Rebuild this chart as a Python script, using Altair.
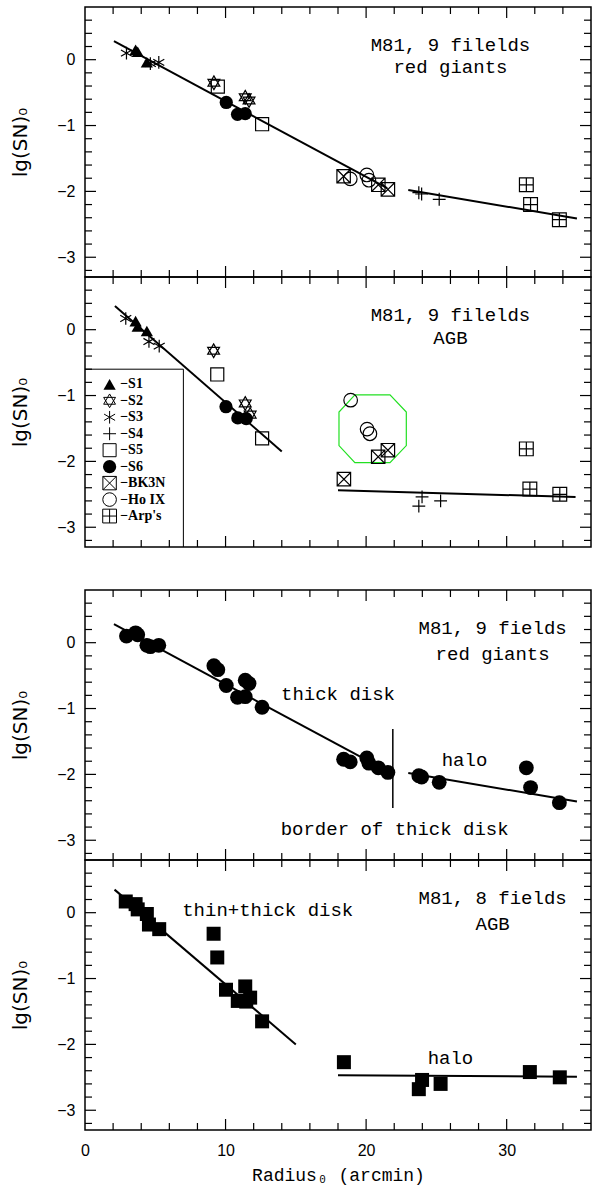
import altair as alt
import pandas as pd

# ---------------- data ----------------
FIELDS = ["S1", "S2", "S3", "S4", "S5", "S6", "BK3N", "Ho IX", "Arp's"]

pt_field = ["S1", "S1", "S1", "S2", "S2", "S2", "S3", "S3", "S3",
            "S4", "S4", "S4", "S5", "S5", "S6", "S6", "S6",
            "BK3N", "BK3N", "BK3N", "Ho IX", "Ho IX", "Ho IX",
            "Arp's", "Arp's", "Arp's"]

# red giants
rg_x = [3.60, 3.75, 4.40, 9.17, 11.40, 11.67, 2.95, 4.65, 5.25,
        23.75, 23.95, 25.20, 9.45, 12.60, 10.05, 10.85, 11.40,
        18.40, 20.87, 21.55, 18.87, 20.05, 20.20, 31.40, 31.70, 33.75]
rg_y = [0.15, 0.12, -0.04, -0.35, -0.57, -0.62, 0.10, -0.06, -0.04,
        -2.02, -2.04, -2.12, -0.41, -0.98, -0.65, -0.83, -0.82,
        -1.77, -1.90, -1.97, -1.81, -1.75, -1.83, -1.90, -2.20, -2.43]

# AGB
agb_x = [3.60, 3.75, 4.40, 9.15, 11.40, 11.75, 2.90, 4.55, 5.28,
         23.75, 23.98, 25.30, 9.41, 12.60, 10.03, 10.87, 11.47,
         18.42, 20.86, 21.55, 18.90, 20.07, 20.27, 31.40, 31.65, 33.78]
agb_y = [0.13, 0.05, -0.02, -0.32, -1.12, -1.29, 0.17, -0.18, -0.25,
         -2.68, -2.54, -2.60, -0.68, -1.65, -1.17, -1.34, -1.35,
         -2.27, -1.93, -1.83, -1.07, -1.51, -1.58, -1.81, -2.42, -2.50]
agb_in8 = [1, 1, 1, 1, 1, 1, 1, 1, 1, 1, 1, 1, 1, 1, 1, 1, 1,
           1, 0, 0, 0, 0, 0, 0, 1, 1]

# fitted lines (two segments each)
fit_seg = ["disk", "disk", "halo", "halo"]
rg_fit_x = [2.06, 21.5, 23.0, 35.0]
rg_fit_y = [0.28, -1.95, -1.98, -2.41]
agb9_fit_x = [2.13, 14.0, 18.0, 34.9]
agb9_fit_y = [0.36, -1.85, -2.44, -2.54]
agb8_fit_x = [2.1, 15.0, 18.0, 35.0]
agb8_fit_y = [0.35, -2.0, -2.47, -2.49]

# green octagon
oct_x = [19.2, 21.7, 22.86, 22.86, 21.7, 19.2, 18.07, 18.07, 19.2]
oct_y = [-0.99, -0.99, -1.25, -1.76, -2.02, -2.02, -1.76, -1.25, -0.99]

# thick-disk border
border_x = [21.9]
border_y1 = [-1.31]
border_y2 = [-2.51]

# legend box corners
lbox_x = [0.0, 7.0, 7.0]
lbox_y = [-0.6, -0.6, -3.3]

# axis ticks
x_major = [10, 20, 30]
x_minor = [2, 4, 6, 8, 12, 14, 16, 18, 22, 24, 26, 28, 32, 34]
y_major = [-3, -2, -1, 0]
y_minor = [-3.2, -2.8, -2.6, -2.4, -2.2, -1.8, -1.6, -1.4, -1.2,
           -0.8, -0.6, -0.4, -0.2, 0.2, 0.4, 0.6]
x_labels = [0, 10, 20, 30]

# annotations
ann1_text = ["M81, 9 filelds", "red giants"]
ann1_x = [26.0, 26.0]
ann1_y = [0.13, -0.20]
ann2_text = ["M81, 9 filelds", "AGB"]
ann2_x = [26.0, 26.0]
ann2_y = [0.13, -0.216]
ann3_text = ["M81, 9 fields", "red giants", "thick disk", "halo", "border of thick disk"]
ann3_x = [29.0, 29.0, 18.0, 27.0, 22.03]
ann3_y = [0.134, -0.256, -0.866, -1.867, -2.92]
ann4_text = ["M81, 8 fields", "AGB", "thin+thick disk", "halo"]
ann4_x = [29.0, 29.0, 13.0, 26.0]
ann4_y = [0.134, -0.256, -0.053, -2.30]

# ---------------- styling ----------------
W, H = 506, 270
GAP = 43
XS = alt.Scale(domain=[0, 36], nice=False, zero=False)
YS = alt.Scale(domain=[-3.3, 0.8], nice=False, zero=False)

HEX = "M0,-1.1L0.95,0.55L-0.95,0.55Z M0,1.1L0.95,-0.55L-0.95,-0.55Z"
AST = "M0,-1L0,1M-0.87,-0.5L0.87,0.5M-0.87,0.5L0.87,-0.5"
PLUS = "M-1,0L1,0M0,-1L0,1"
XBOX = "M-1,-1L1,-1L1,1L-1,1Z M-1,-1L1,1 M-1,1L1,-1"
PBOX = "M-1,-1L1,-1L1,1L-1,1Z M-1,0L1,0 M0,-1L0,1"
SHAPES = ["triangle-up", HEX, AST, PLUS, "square", "circle", XBOX, "circle", PBOX]
SIZES = [150, 190, 200, 130, 180, 225, 180, 175, 180]
FILLED = ["S1", "S6"]
OPEN = [f for f in FIELDS if f not in FILLED]

SHAPE_SCALE = alt.Scale(domain=FIELDS, range=SHAPES)
SIZE_SCALE = alt.Scale(domain=FIELDS, range=SIZES)

TEXT_FONT = "Liberation Mono"

Y_AXIS = alt.Axis(values=y_major, ticks=False, domain=False, grid=False,
                  labelFont="Liberation Sans", labelFontSize=16, labelPadding=10,
                  labelFlush=False, labelColor="black",
                  title="lg(SN)₀", titleFont="DejaVu Sans", titleFontSize=20,
                  titleFontWeight="normal", titlePadding=26, titleColor="black")
X_AXIS = alt.Axis(values=x_labels, ticks=False, domain=False, grid=False,
                  labelFont="Liberation Sans", labelFontSize=16, labelPadding=12,
                  labelFlush=False, labelColor="black",
                  title="Radius₀ (arcmin)", titleFont=TEXT_FONT, titleFontSize=18,
                  titleFontWeight="normal", titlePadding=8, titleColor="black")


class Panel:
    def __init__(self, show_x):
        self.xa = X_AXIS if show_x else None
        self.ya = Y_AXIS

    def X(self, f="x"):
        return alt.X(f"{f}:Q", scale=XS, axis=self.xa)

    def Y(self, f="y"):
        return alt.Y(f"{f}:Q", scale=YS, axis=self.ya)

    def ticks(self):
        layers = []
        for vals, L in ((x_major, 11), (x_minor, 7)):
            d = pd.DataFrame({"v": vals})
            b = alt.Chart(d).mark_rule(color="black", strokeWidth=1.2)
            layers.append(b.encode(x=self.X("v"), y=alt.value(H), y2=alt.value(H - L)))
            layers.append(b.encode(x=self.X("v"), y=alt.value(0), y2=alt.value(L)))
        for vals, L in ((y_major, 11), (y_minor, 7)):
            d = pd.DataFrame({"v": vals})
            b = alt.Chart(d).mark_rule(color="black", strokeWidth=1.2)
            layers.append(b.encode(y=self.Y("v"), x=alt.value(0), x2=alt.value(L)))
            layers.append(b.encode(y=self.Y("v"), x=alt.value(W), x2=alt.value(W - L)))
        return layers

    def fit(self, fx, fy):
        d = pd.DataFrame({"seg": fit_seg, "x": fx, "y": fy})
        return alt.Chart(d).mark_line(color="black", strokeWidth=2).encode(
            x=self.X(), y=self.Y(), detail="seg:N")

    def text(self, texts, xs, ys):
        d = pd.DataFrame({"t": texts, "x": xs, "y": ys})
        return alt.Chart(d).mark_text(align="center", baseline="alphabetic",
                                      font=TEXT_FONT, fontSize=19, color="black").encode(
            x=self.X(), y=self.Y(), text="t:N")

    def symbols(self, df, size_scale=SIZE_SCALE, sw=1.2):
        filled = alt.Chart(df).transform_filter(
            alt.FieldOneOfPredicate(field="field", oneOf=FILLED)
        ).mark_point(filled=True, color="black", opacity=1).encode(
            x=self.X(), y=self.Y(),
            shape=alt.Shape("field:N", scale=SHAPE_SCALE, legend=None),
            size=alt.Size("field:N", scale=size_scale, legend=None),
        )
        opened = alt.Chart(df).transform_filter(
            alt.FieldOneOfPredicate(field="field", oneOf=OPEN)
        ).mark_point(filled=False, color="black", strokeWidth=sw, opacity=1).encode(
            x=self.X(), y=self.Y(),
            shape=alt.Shape("field:N", scale=SHAPE_SCALE, legend=None),
            size=alt.Size("field:N", scale=size_scale, legend=None),
        )
        return [filled, opened]

    def path(self, xs, ys, color, sw):
        d = pd.DataFrame({"i": list(range(len(xs))), "x": xs, "y": ys})
        return alt.Chart(d).mark_line(color=color, strokeWidth=sw).encode(
            x=self.X(), y=self.Y(), order="i:Q")


rg_df = pd.DataFrame({"field": pt_field, "x": rg_x, "y": rg_y})
agb_df = pd.DataFrame({"field": pt_field, "x": agb_x, "y": agb_y, "in8": agb_in8})

# ---- panel 1: red giants by field
P = Panel(False)
p1 = alt.layer(
    P.fit(rg_fit_x, rg_fit_y),
    *P.ticks(),
    *P.symbols(rg_df),
    P.text(ann1_text, ann1_x, ann1_y),
).properties(width=W, height=H)

# ---- panel 2: AGB by field, with legend and octagon
P = Panel(False)
leg_y = [-0.83 - 0.25 * i for i in range(len(FIELDS))]
leg_df = pd.DataFrame({"field": FIELDS, "x": [1.75] * len(FIELDS), "y": leg_y,
                       "tx": [2.5] * len(FIELDS),
                       "label": ["−" + f for f in FIELDS]})
LEG_SIZE = alt.Scale(domain=FIELDS, range=[110, 130, 130, 100, 120, 150, 120, 120, 120])
leg_text = alt.Chart(leg_df).mark_text(align="left", baseline="middle",
                                       font="Liberation Serif", fontSize=14,
                                       fontWeight="bold", color="black").encode(
    x=P.X("tx"), y=P.Y(), text="label:N")

p2 = alt.layer(
    P.fit(agb9_fit_x, agb9_fit_y),
    *P.ticks(),
    P.path(oct_x, oct_y, "#22e022", 1.2),
    P.path(lbox_x, lbox_y, "black", 1),
    *P.symbols(agb_df),
    *P.symbols(leg_df, LEG_SIZE, 1.0),
    leg_text,
    P.text(ann2_text, ann2_x, ann2_y),
).properties(width=W, height=H)

# ---- spacer between the two figure halves
spacer = alt.Chart(pd.DataFrame({"a": [0]})).mark_point(opacity=0).encode(
    x=alt.value(0), y=alt.value(0)
).properties(width=W, height=GAP, view=alt.ViewBackground(strokeOpacity=0))

# ---- panel 3: red giants, all filled circles
P = Panel(False)
border_df = pd.DataFrame({"x": border_x, "y": border_y1, "y2": border_y2})
border = alt.Chart(border_df).mark_rule(color="black", strokeWidth=1.5).encode(
    x=P.X(), y=P.Y(), y2="y2:Q")
p3_pts = alt.Chart(rg_df).mark_point(filled=True, shape="circle", size=220,
                                     color="black", opacity=1).encode(x=P.X(), y=P.Y())
p3 = alt.layer(
    P.fit(rg_fit_x, rg_fit_y),
    *P.ticks(),
    border, p3_pts,
    P.text(ann3_text, ann3_x, ann3_y),
).properties(width=W, height=H)

# ---- panel 4: AGB, 8 fields, filled squares
P = Panel(True)
p4_pts = alt.Chart(agb_df).transform_filter("datum.in8 == 1").mark_point(
    filled=True, shape="square", size=196, color="black", opacity=1
).encode(x=P.X(), y=P.Y())
p4 = alt.layer(
    P.fit(agb8_fit_x, agb8_fit_y),
    *P.ticks(),
    p4_pts,
    P.text(ann4_text, ann4_x, ann4_y),
).properties(width=W, height=H)

chart = alt.vconcat(p1, p2, spacer, p3, p4, spacing=0, bounds="flush").properties(
    padding={"left": 10, "top": 5, "right": 5, "bottom": 2},
    background="white",
).configure_view(stroke="black", strokeWidth=1.5)

chart.save("out.html", embed_options={"renderer": "svg", "actions": False})
